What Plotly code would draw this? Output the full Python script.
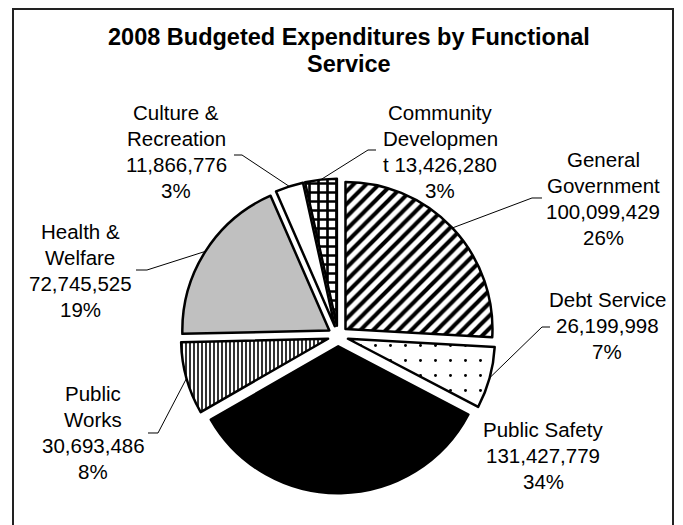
import math
import plotly.graph_objects as go

# ---- data ----
categories = ["General Government", "Debt Service", "Public Safety", "Public Works",
              "Health & Welfare", "Culture & Recreation", "Community Development"]
values = [100099429, 26199998, 131427779, 30693486, 72745525, 11866776, 13426280]
label_lines = [
    ["General", "Government", "{v}", "{p}"],
    ["Debt Service", "{v}", "{p}"],
    ["Public Safety", "{v}", "{p}"],
    ["Public", "Works", "{v}", "{p}"],
    ["Health &", "Welfare", "{v}", "{p}"],
    ["Culture &", "Recreation", "{v}", "{p}"],
    ["Community", "Developmen", "t {v}", "{p}"],
]
title_lines = ["2008 Budgeted Expenditures by Functional", "Service"]

# ---- styles ----
fills = ["white", "white", "black", "white", "#c0c0c0", "white", "white"]
pattern_shapes = ["/", ".", "", "|", "", "", "+"]
pattern_sizes = [9, 15, 10, 4, 10, 10, 9]
pattern_solid = [0.45, 0.03, 0.3, 0.4, 0.3, 0.3, 0.5]

W, H = 683, 525
OFF = 8  # page body margin offset
CX, CY, R, PULL = 338, 336, 147, 0.07
FONT = "Arial, Liberation Sans, sans-serif"
FSIZE = 20.5
LSTEP = 26

# label block positions (px): center x, first line y
label_pos = [(603, 159), (607, 299), (543, 429), (93, 393), (80, 231), (176, 113), (440, 113)]
# leader lines: points (px) from slice outward toward label
leader_pts = [[(532, 198), (542, 198)], [(542, 327), (550, 327)], None,
              [(158, 433), (148, 433)], [(147, 270), (136, 270)],
              [(242, 155), (234, 155)], [(368, 150), (376, 150)]]


def px(x):
    return (x - OFF) / W


def py(y):
    return 1 - (y - OFF) / H


total = sum(values)
half = R * (1 + PULL)

fig = go.Figure(go.Pie(
    labels=categories, values=values, sort=False, direction="clockwise", rotation=0,
    textinfo="none", hoverinfo="label+value+percent", showlegend=False,
    pull=[PULL] * len(values),
    domain=dict(x=[px(CX - half), px(CX + half)], y=[py(CY + half), py(CY - half)]),
    marker=dict(colors=fills, line=dict(color="black", width=2.5),
                pattern=dict(shape=pattern_shapes, fgcolor="black", bgcolor=fills,
                             size=pattern_sizes, solidity=pattern_solid)),
))

annotations = []
shapes = []
cum = 0
for i, (cat, v) in enumerate(zip(categories, values)):
    frac = v / total
    mid = (cum + frac / 2) * 2 * math.pi
    cum += frac
    vtxt = f"{v:,}"
    ptxt = f"{round(frac * 100)}%"
    lx, ly = label_pos[i]
    for j, line in enumerate(label_lines[i]):
        annotations.append(dict(
            text=line.replace("{v}", vtxt).replace("{p}", ptxt),
            x=px(lx), y=py(ly + j * LSTEP), xref="paper", yref="paper",
            xanchor="center", yanchor="middle", showarrow=False,
            font=dict(family=FONT, size=FSIZE, color="black")))
    if leader_pts[i]:
        tx = CX + half * math.sin(mid)
        ty = CY - half * math.cos(mid)
        pts = [(tx, ty)] + leader_pts[i]
        path = "M " + " L ".join(f"{px(a):.5f},{py(b):.5f}" for a, b in pts)
        shapes.append(dict(type="path", path=path, xref="paper", yref="paper",
                           line=dict(color="black", width=1)))

for j, t in enumerate(title_lines):
    annotations.append(dict(
        text=f"<b>{t}</b>", x=px(349), y=py(37 + j * 27), xref="paper", yref="paper",
        xanchor="center", yanchor="middle", showarrow=False,
        font=dict(family=FONT, size=23.5, color="black")))

shapes.append(dict(type="rect", xref="paper", yref="paper",
                   x0=px(13), x1=px(673), y0=py(560), y1=py(9),
                   line=dict(color="#222222", width=2)))

fig.update_layout(
    width=W, height=H, margin=dict(l=0, r=0, t=0, b=0),
    paper_bgcolor="white", plot_bgcolor="white",
    annotations=annotations, shapes=shapes,
)

fig.write_html("out.html")
